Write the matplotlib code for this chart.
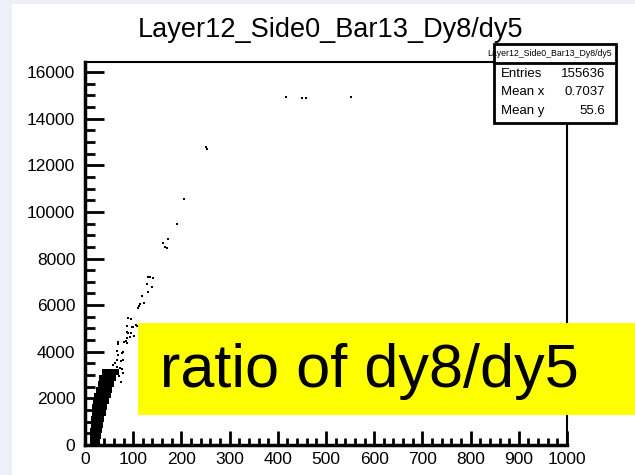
import matplotlib.pyplot as plt
from matplotlib.patches import Rectangle
from matplotlib.ticker import MultipleLocator
import numpy as np

plt.rcParams['font.family'] = ['Liberation Sans', 'DejaVu Sans']

# dense core of the scatter: y slices (bottom edge) with occupied x range
band_y = [0, 250, 500, 750, 1000, 1250, 1500, 1750, 2000, 2250, 2500, 2750, 3000]
band_xlo = [10, 10, 11, 12, 13, 14, 15, 17, 19, 22, 26, 30, 36]
band_xhi = [32, 33, 35, 37, 40, 43, 46, 49, 53, 57, 61, 65, 70]

# isolated entries outside the core
pt_x = [417, 450, 458, 552, 251, 253, 205, 191, 172, 162, 166, 170,
        135, 131, 141, 129, 139, 131, 118, 122, 114, 112, 110,
        89, 95, 87, 98, 100, 108, 106, 87, 89, 95, 93, 87, 102,
        85, 81, 68, 68, 87, 66, 79, 77, 68, 66, 75, 79, 62, 58, 66,
        72, 76, 70, 74, 78]
pt_y = [14929, 14900, 14890, 14929, 12784, 12698, 10553, 9480, 8837, 8666, 8494, 8451,
        7207, 7207, 7164, 6907, 6778, 6564, 6392, 6092, 6049, 5963, 5877,
        5448, 5405, 5105, 5062, 5062, 5105, 5148, 4848, 4805, 4805, 4633, 4590, 4676,
        4462, 4419, 4419, 4333, 4376, 4033, 3990, 3947, 3861, 3646, 3604, 3646, 3518, 3432, 3346,
        3300, 3250, 2950, 2700, 3100]

hist_name = "Layer12_Side0_Bar13_Dy8/dy5"
stats_labels = ["Entries", "Mean x", "Mean y"]
stats_values = ["155636", "0.7037", "55.6"]

W, H = 635, 475
fig = plt.figure(figsize=(W / 100, H / 100), dpi=100)
fig.patch.set_facecolor('white')

# slide background strips
fig.add_artist(Rectangle((0, 0), 12 / W, 1, transform=fig.transFigure,
                         facecolor='#eef0f7', edgecolor='none', zorder=0))
fig.add_artist(Rectangle((0, 1 - 4 / H), 1, 4 / H, transform=fig.transFigure,
                         facecolor='#eef0f7', edgecolor='none', zorder=0))

ax = fig.add_axes([85 / W, 1 - 445 / H, (567 - 85) / W, (445 - 62) / H])
ax.set_xlim(0, 1000)
ax.set_ylim(0, 16430)

ax.barh(band_y, np.array(band_xhi) - np.array(band_xlo), left=band_xlo,
        height=250, align='edge', color='black', linewidth=0)
ax.scatter(pt_x, pt_y, s=4, marker='s', color='black', linewidths=0)

ax.xaxis.set_major_locator(MultipleLocator(100))
ax.xaxis.set_minor_locator(MultipleLocator(20))
ax.yaxis.set_major_locator(MultipleLocator(2000))
ax.yaxis.set_minor_locator(MultipleLocator(500))
ax.tick_params(which='both', direction='in', width=2, labelsize=12.5, color='black')
ax.tick_params(axis='x', which='major', length=10, pad=5)
ax.tick_params(axis='x', which='minor', length=5)
ax.tick_params(axis='y', which='major', length=14, pad=7)
ax.tick_params(axis='y', which='minor', length=7)
ax.tick_params(top=False, right=False)
for side in ['top', 'right']:
    ax.spines[side].set_linewidth(1.5)
for side in ['left', 'bottom']:
    ax.spines[side].set_linewidth(2.5)

fig.text(330 / W, 1 - 30 / H, hist_name, ha='center', va='center', fontsize=19.5)

# stats box
bx0, bx1, by0, bdiv, by1 = 494, 616, 44, 63, 123
fig.add_artist(Rectangle((bx0 / W, 1 - by1 / H), (bx1 - bx0) / W, (by1 - by0) / H,
                         transform=fig.transFigure, facecolor='white',
                         edgecolor='black', linewidth=2, zorder=5))
fig.add_artist(plt.Line2D([bx0 / W, bx1 / W], [1 - bdiv / H, 1 - bdiv / H],
                          transform=fig.transFigure, color='black', linewidth=2, zorder=6))
fig.text(550 / W, 1 - (by0 + bdiv) / 2 / H, hist_name, ha='center',
         va='center', fontsize=6.3, zorder=7)
for i, (lab, val) in enumerate(zip(stats_labels, stats_values)):
    yy = 1 - (74 + i * 18.5) / H
    fig.text(501 / W, yy, lab, ha='left', va='center', fontsize=9.5, zorder=7)
    fig.text(605 / W, yy, val, ha='right', va='center', fontsize=9.5, zorder=7)

# yellow annotation
fig.add_artist(Rectangle((138 / W, 1 - 415 / H), (W - 138) / W, (415 - 323) / H,
                         transform=fig.transFigure, facecolor='#ffff00',
                         edgecolor='none', zorder=8))
fig.text(160 / W, 1 - 372 / H, "ratio of dy8/dy5", ha='left', va='center',
         fontsize=44, zorder=9)

fig.savefig('out.png', dpi=100)
